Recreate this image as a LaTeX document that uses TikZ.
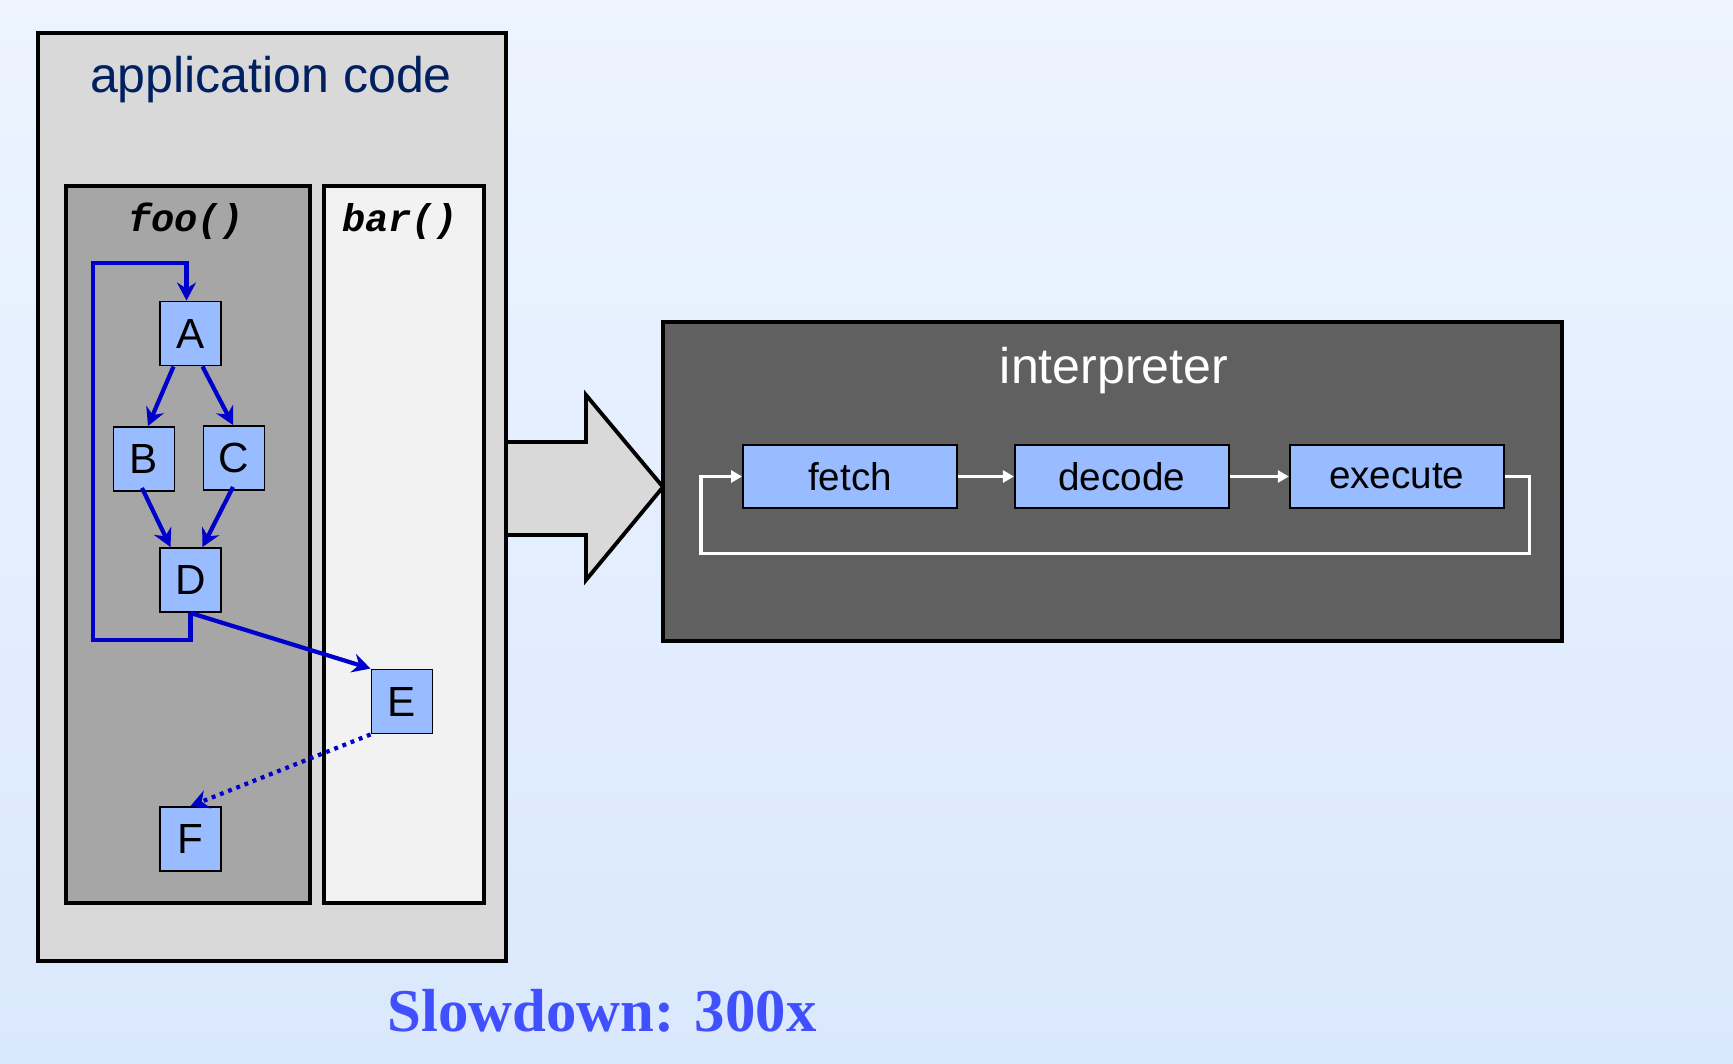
\documentclass[tikz,border=0pt]{standalone}
\usepackage{fontspec}
\setmainfont{Liberation Sans}
\setmonofont{Liberation Mono}
\newfontfamily\slowfont{Liberation Serif}
\usetikzlibrary{%
	calc,%
	arrows.meta,%
	positioning,%
}
\definecolor{cbgtop}{RGB}{237, 244, 255}
\definecolor{cbgbottom}{RGB}{218, 232, 253}
\definecolor{cappgray}{RGB}{217, 217, 217}
\definecolor{cfoogray}{RGB}{166, 166, 166}
\definecolor{cbargray}{RGB}{242, 242, 242}
\definecolor{cinterp}{RGB}{96, 96, 96}
\definecolor{cblockblue}{RGB}{153, 187, 255}
\definecolor{cflowblue}{RGB}{0, 0, 204}
\definecolor{cnavy}{RGB}{0, 32, 96}
\definecolor{cslow}{RGB}{64, 80, 255}
\tikzset{
	>={Stealth[length=3.6mm, width=3.8mm, inset=1.2mm]},%
	container/.style={%
			draw,%
			rectangle,%
			line width=2.2pt,%
			inner sep=0},%
	block/.style={%
			draw,%
			rectangle,%
			line width=1.1pt,%
			fill=cblockblue,%
			minimum width=1.22cm,%
			minimum height=1.28cm,%
			inner sep=0,%
			font=\fontsize{24}{28}\selectfont},%
	stage/.style={%
			block,%
			minimum width=4.28cm,%
			minimum height=1.26cm,%
			font=\fontsize{22}{26}\selectfont},%
	flow/.style={%
			->,%
			cflowblue,%
			line width=2.4pt},%
	loopflow/.style={%
			white,%
			line width=1.8pt,%
			-{Triangle[length=2.2mm, width=2.4mm]}},%
	funcname/.style={%
			font=\fontsize{22}{26}\selectfont\ttfamily\bfseries\itshape},%
	title/.style={%
			font=\fontsize{28.5}{32}\selectfont},%
}

\begin{document}
\begin{tikzpicture}[x=0.02cm, y=-0.02cm]
	\useasboundingbox (0,0) rectangle (1733,1063);
	\shade[top color=cbgtop, bottom color=cbgbottom] (0,0) rectangle (1733,1063);

	\node[container, fill=cappgray, minimum width=9.36cm, minimum height=18.56cm] (app) at (272,497) {};
	\node[title, text=cnavy] (apptitle) at (271,80) {application code};
	\node[container, fill=cfoogray, minimum width=4.87cm, minimum height=14.34cm] (foo) at (188,544.5) {};
	\node[container, fill=cbargray, minimum width=3.2cm, minimum height=14.34cm] (bar) at (404,544.5) {};
	\node[funcname] (foolbl) at (186,221) {foo()};
	\node[funcname] (barlbl) at (400,221) {bar()};

	\node[block] (A) at (190.5,333.5) {A};
	\node[block] (B) at (144,459) {B};
	\node[block] (C) at (234,458) {C};
	\node[block] (D) at (190.5,580) {D};
	\node[block] (E) at (402,701.5) {E};
	\node[block] (F) at (190.5,839) {F};

	\coordinate (lpbottom) at (93,640);
	\coordinate (lptop) at (93,263);
	\draw[flow] ($(A.south)+(-17,0)$) -- ($(B.north)+(4,0)$);
	\draw[flow] ($(A.south)+(12,0)$) -- ($(C.north)+(-1,0)$);
	\draw[flow] ($(B.south)+(-2,-4)$) -- ($(D.north)+(-20,0)$);
	\draw[flow] ($(C.south)+(-1,-4)$) -- ($(D.north)+(12,0)$);
	\draw[flow] (D.south) |- (lpbottom) -- (lptop) -| ($(A.north)+(-4,0)$);
	\draw[flow] (D.south) -- (E.north west);
	\draw[flow, dash pattern=on 2.2pt off 2.8pt] (E.south west) -- (F.north);

	% translation arrow
	\filldraw[fill=cappgray, draw=black, line width=2.2pt, line join=miter] (506,442) -- (586,442) -- (586,395) -- (663,487) -- (586,580) -- (586,535) -- (506,535) -- cycle;

	\node[container, fill=cinterp, minimum width=17.98cm, minimum height=6.38cm] (interp) at (1112.5,481.5) {};
	\node[title, text=white] (interplbl) at (1114,371) {interpreter};
	\node[stage] (fetch) at (850,476.5) {fetch};
	\node[stage, right=1.12cm of fetch] (decode) {decode};
	\node[stage, right=1.18cm of decode] (exec) {execute};

	\draw[loopflow] (fetch) -- (decode);
	\draw[loopflow] (decode) -- (exec);
	\draw[loopflow] (exec.east) -- ++(25,0) -- ++(0,77) -| ($(fetch.west)+(-41,0)$) -- (fetch.west);

	\node[text=cslow, font=\slowfont\bfseries\fontsize{34.6}{40}\selectfont] (slow) at (602,1011) {Slowdown: 300x};
\end{tikzpicture}
\end{document}
